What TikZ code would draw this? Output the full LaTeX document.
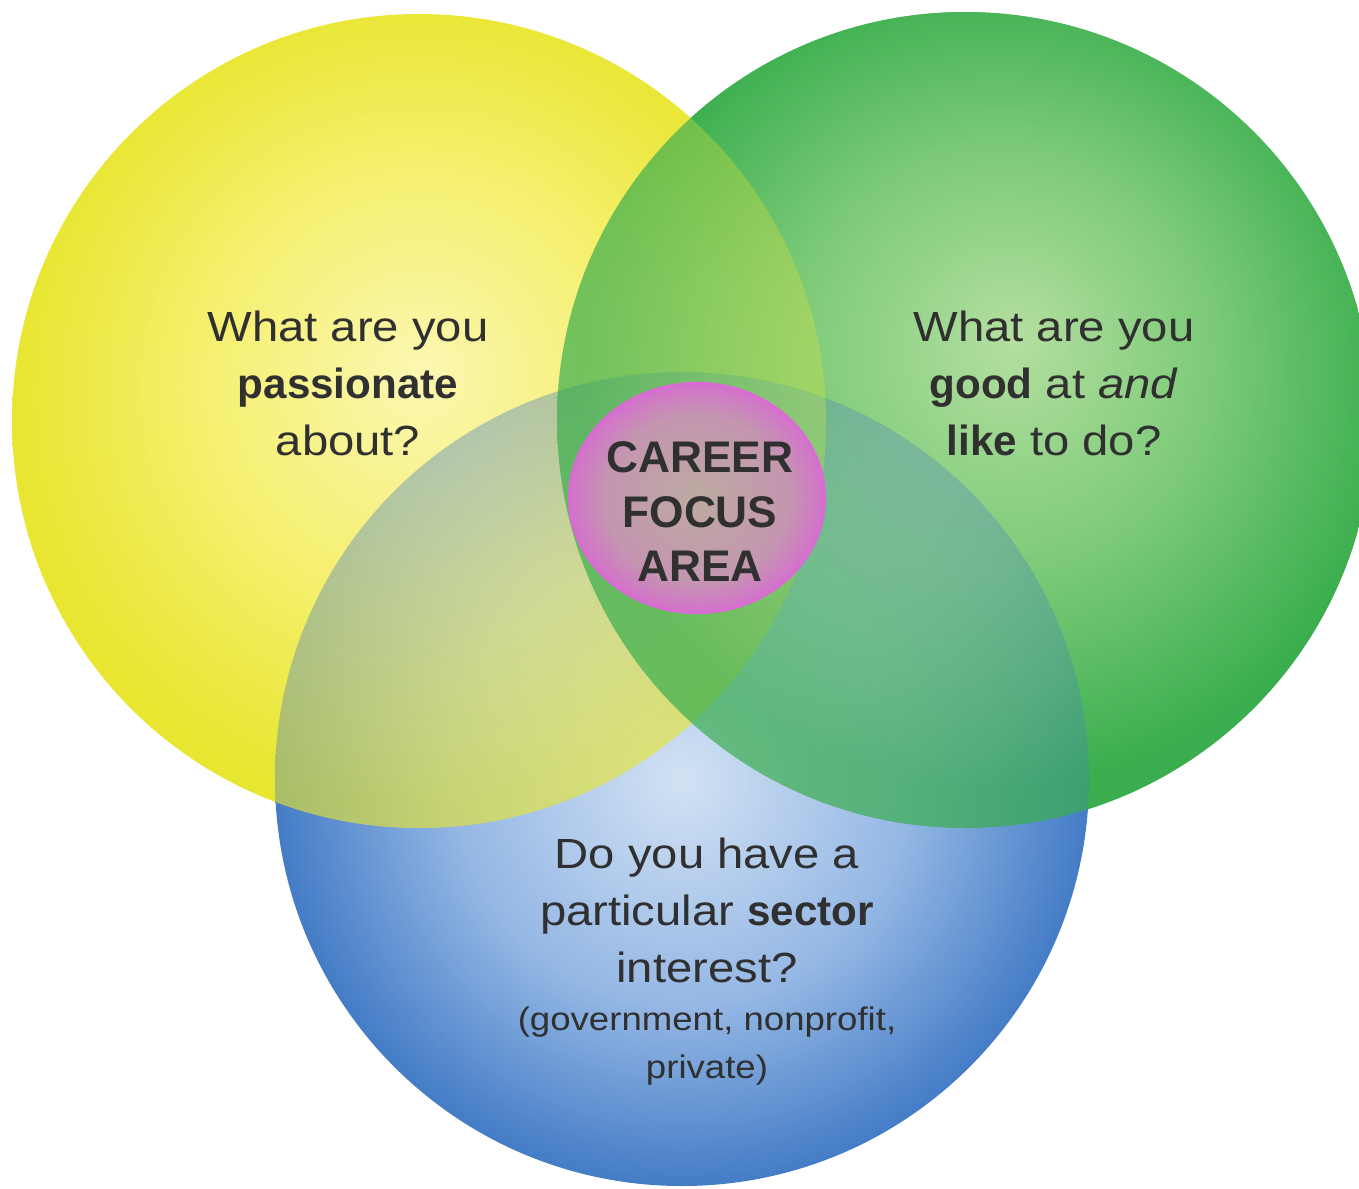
\documentclass[tikz,border=0pt]{standalone}
\usepackage{fontspec}
\setmainfont{Liberation Sans}[FakeStretch=1.12]
\newfontfamily\boldface{Liberation Sans Bold}
\usetikzlibrary{positioning}

\definecolor{ylight}{RGB}{251,247,178}
\definecolor{ymid}{RGB}{245,240,112}
\definecolor{yedge}{RGB}{232,230,48}
\definecolor{glight}{RGB}{180,223,160}
\definecolor{gmid}{RGB}{124,202,120}
\definecolor{gedge}{RGB}{58,174,78}
\definecolor{blight}{RGB}{210,226,244}
\definecolor{bmid}{RGB}{148,183,228}
\definecolor{bedge}{RGB}{68,124,198}
\definecolor{pinkin}{RGB}{188,170,160}
\definecolor{pinkmid}{RGB}{196,150,176}
\definecolor{pinkout}{RGB}{212,112,204}
\definecolor{pinkline}{RGB}{222,104,216}
\definecolor{textgray}{RGB}{48,48,48}

\pgfdeclareradialshading{yellowglow}{\pgfpoint{0bp}{3bp}}{color(0bp)=(ylight); color(13bp)=(ymid); color(25bp)=(yedge); color(50bp)=(yedge)}
\pgfdeclareradialshading{greenglow}{\pgfpoint{3bp}{5bp}}{color(0bp)=(glight); color(13bp)=(gmid); color(25bp)=(gedge); color(50bp)=(gedge)}
\pgfdeclareradialshading{blueglow}{\pgfpoint{0bp}{0bp}}{color(0bp)=(blight); color(14bp)=(bmid); color(25bp)=(bedge); color(50bp)=(bedge)}
\pgfdeclareradialshading{focusglow}{\pgfpoint{0bp}{0bp}}{color(0bp)=(pinkin); color(18bp)=(pinkmid); color(25bp)=(pinkout); color(50bp)=(pinkout)}

\newcommand{\bw}[1]{{\boldface #1}}

\begin{document}
\begin{tikzpicture}[x=0.1mm,y=0.1mm,
    question/.style={align=center, text=textgray, inner sep=0pt, anchor=north,
      font=\fontsize{12}{16.2}\selectfont},
    focus/.style={align=center, text=textgray, inner sep=0pt, anchor=north,
      font=\boldface\fontsize{12.6}{15.5}\selectfont},
    aside/.style={align=center, text=textgray, inner sep=0pt,
      font=\fontsize{9.3}{13.6}\selectfont}]
    \useasboundingbox (0,0) rectangle (1359,-1188);
    \clip (0,0) rectangle (1359,-1188);
    % circle centres
    \coordinate (passion) at (419,-421);
    \coordinate (skill) at (965,-420);
    \coordinate (sector) at (682,-779);
    \coordinate (career) at (697,-498);
    % the three circles
    \shade [shading=greenglow] (skill) circle (408);
    \shade [shading=blueglow] (sector) circle (407);
    \shade [shading=yellowglow] (passion) circle (407);
    \begin{scope}
      \clip (passion) circle (407);
      \shade [shading=blueglow, opacity=0.38] (sector) circle (407);
    \end{scope}
    \shade [shading=greenglow, opacity=0.7] (skill) circle (408);
    % centre
    \shade [shading=focusglow] (career) ellipse [x radius=128, y radius=115];
    \draw [pinkline, line width=0.6pt] (career) ellipse [x radius=128, y radius=115];
    % texts
    \node [question] (passionq) at (348,-310) {What are you\\ \bw{passionate}\\ about?};
    \node [question] (skillq) at (1054,-310) {What are you\\ \bw{good} at \textit{and}\\ \bw{like} to do?};
    \node [focus] (careerq) at (700,-441) {CAREER\\ FOCUS\\ AREA};
    \node [question] (sectorq) at (707,-837) {Do you have a\\ particular \bw{sector}\\ interest?};
    \node [aside, below=2.3mm of sectorq] (sectornote) {(government, nonprofit,\\ private)};
\end{tikzpicture}
\end{document}
